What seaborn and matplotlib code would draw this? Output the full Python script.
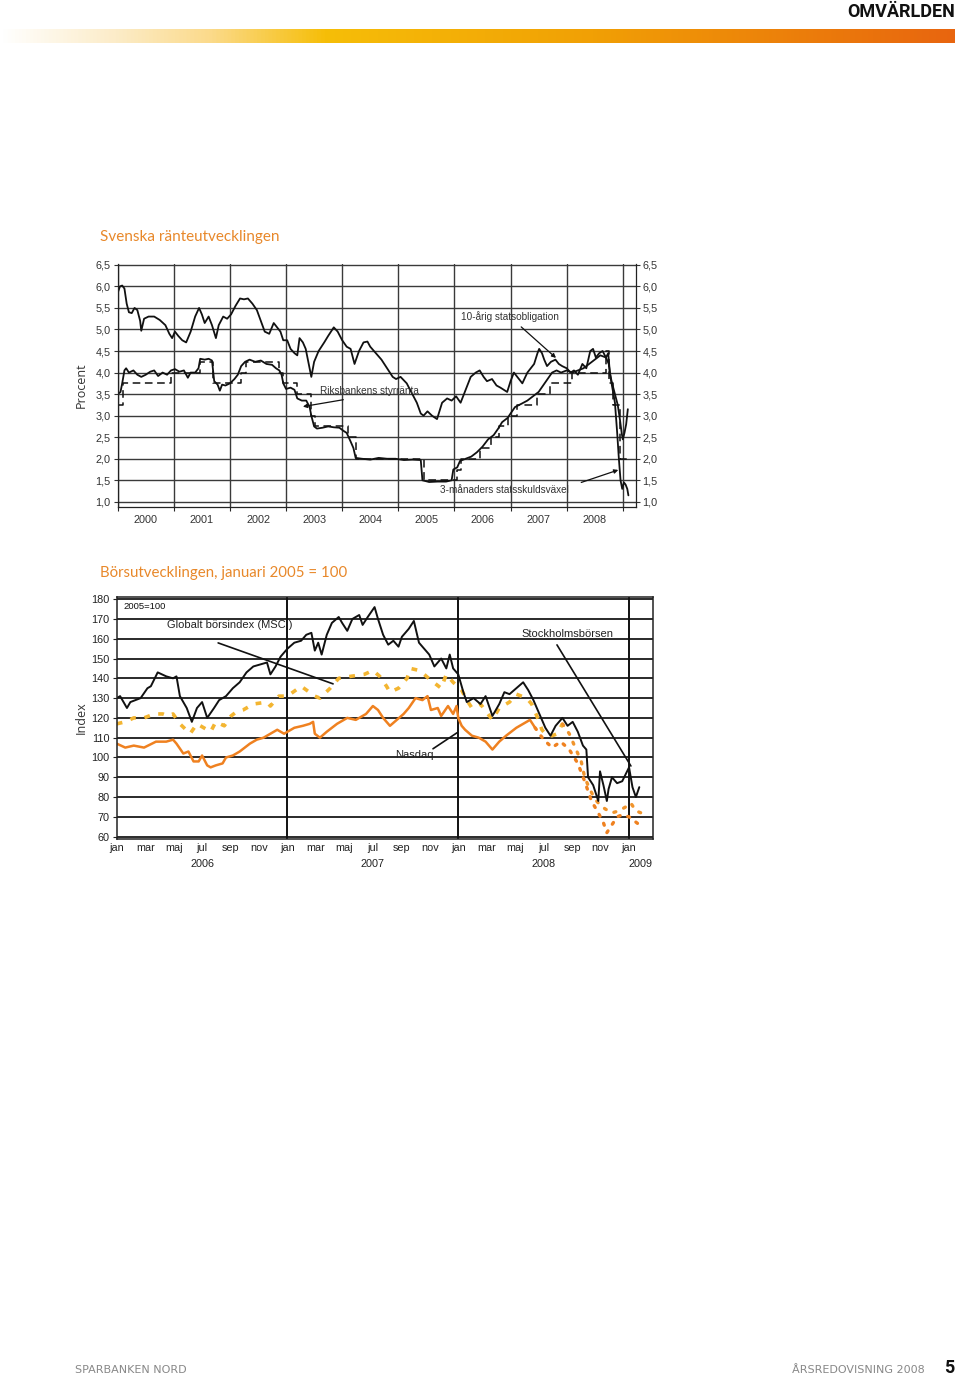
import numpy as np
import matplotlib
matplotlib.use("Agg")
import matplotlib.pyplot as plt
import matplotlib.transforms as mtransforms
from matplotlib.colors import LinearSegmentedColormap
import seaborn as sns

# ---------------- Svenska ränteutvecklingen (procent) ----------------
bond_year = [2000.00, 2000.04, 2000.08, 2000.12, 2000.16, 2000.20, 2000.25, 2000.30, 2000.35, 2000.40,
             2000.42, 2000.47, 2000.55, 2000.65, 2000.75, 2000.85, 2000.92, 2000.97, 2001.02, 2001.08,
             2001.15, 2001.22, 2001.30, 2001.38, 2001.45, 2001.50, 2001.55, 2001.62, 2001.68, 2001.75,
             2001.80, 2001.88, 2001.95, 2002.02, 2002.10, 2002.18, 2002.25, 2002.32, 2002.40, 2002.48,
             2002.55, 2002.62, 2002.70, 2002.78, 2002.84, 2002.90, 2002.95, 2003.02, 2003.08, 2003.15,
             2003.20, 2003.24, 2003.30, 2003.35, 2003.42, 2003.45, 2003.50, 2003.58, 2003.68, 2003.75,
             2003.85, 2003.92, 2004.00, 2004.08, 2004.15, 2004.22, 2004.30, 2004.38, 2004.45, 2004.50,
             2004.60, 2004.70, 2004.80, 2004.90, 2004.96, 2005.04, 2005.15, 2005.25, 2005.33, 2005.40,
             2005.45, 2005.52, 2005.60, 2005.69, 2005.78, 2005.87, 2005.95, 2006.03, 2006.11, 2006.20,
             2006.29, 2006.38, 2006.45, 2006.52, 2006.58, 2006.67, 2006.75, 2006.82, 2006.94, 2007.00,
             2007.06, 2007.15, 2007.21, 2007.30, 2007.42, 2007.48, 2007.51, 2007.56, 2007.60, 2007.65,
             2007.72, 2007.80, 2007.86, 2007.92, 2008.00, 2008.07, 2008.13, 2008.20, 2008.28, 2008.35,
             2008.42, 2008.47, 2008.52, 2008.58, 2008.64, 2008.70, 2008.74, 2008.77, 2008.80, 2008.84,
             2008.88, 2008.91, 2008.95, 2008.98, 2009.00, 2009.03, 2009.06, 2009.09]
bond_rate = [5.85, 6.00, 6.02, 5.95, 5.60, 5.40, 5.38, 5.50, 5.45, 5.20,
             4.97, 5.25, 5.30, 5.30, 5.22, 5.10, 4.90, 4.80, 4.95, 4.85,
             4.75, 4.70, 4.95, 5.30, 5.50, 5.35, 5.15, 5.30, 5.10, 4.80,
             5.10, 5.30, 5.25, 5.35, 5.55, 5.72, 5.70, 5.72, 5.60, 5.45,
             5.20, 4.95, 4.90, 5.15, 5.05, 4.95, 4.75, 4.75, 4.55, 4.45,
             4.40, 4.80, 4.70, 4.55, 4.10, 3.90, 4.25, 4.50, 4.70, 4.85,
             5.05, 4.95, 4.75, 4.60, 4.55, 4.20, 4.50, 4.70, 4.72, 4.60,
             4.45, 4.30, 4.10, 3.90, 3.85, 3.90, 3.75, 3.50, 3.30, 3.05,
             3.00, 3.10, 3.00, 2.92, 3.30, 3.40, 3.35, 3.45, 3.30, 3.60,
             3.90, 4.00, 4.05, 3.90, 3.80, 3.85, 3.70, 3.65, 3.55, 3.80,
             4.00, 3.85, 3.75, 4.00, 4.20, 4.45, 4.55, 4.45, 4.30, 4.15,
             4.25, 4.30, 4.20, 4.15, 4.10, 4.00, 4.05, 3.95, 4.20, 4.10,
             4.50, 4.55, 4.35, 4.45, 4.50, 4.35, 4.45, 4.00, 3.80, 3.60,
             3.40, 3.25, 2.90, 2.60, 2.45, 2.60, 2.80, 3.15]

tbill_year = [2000.00, 2000.05, 2000.08, 2000.12, 2000.15, 2000.20, 2000.28, 2000.35, 2000.42, 2000.50,
              2000.58, 2000.65, 2000.72, 2000.80, 2000.88, 2000.95, 2001.02, 2001.10, 2001.18, 2001.25,
              2001.30, 2001.38, 2001.44, 2001.47, 2001.55, 2001.62, 2001.68, 2001.72, 2001.78, 2001.82,
              2001.86, 2001.92, 2002.00, 2002.08, 2002.14, 2002.20, 2002.27, 2002.35, 2002.45, 2002.55,
              2002.65, 2002.75, 2002.82, 2002.88, 2002.92, 2002.95, 2003.00, 2003.08, 2003.15, 2003.20,
              2003.28, 2003.36, 2003.42, 2003.45, 2003.50, 2003.55, 2003.65, 2003.75, 2003.85, 2003.95,
              2004.02, 2004.08, 2004.15, 2004.20, 2004.24, 2004.35, 2004.50, 2004.65, 2004.80, 2004.95,
              2005.10, 2005.25, 2005.40, 2005.43, 2005.55, 2005.70, 2005.85, 2005.95, 2005.98, 2006.05,
              2006.10, 2006.20, 2006.30, 2006.40, 2006.50, 2006.60, 2006.70, 2006.78, 2006.85, 2006.95,
              2007.00, 2007.08, 2007.20, 2007.30, 2007.40, 2007.50, 2007.58, 2007.66, 2007.74, 2007.82,
              2007.90, 2008.00, 2008.10, 2008.20, 2008.30, 2008.40, 2008.50, 2008.60, 2008.70, 2008.75,
              2008.78, 2008.82, 2008.86, 2008.90, 2008.93, 2008.96, 2008.99, 2009.02, 2009.05, 2009.08,
              2009.10]
tbill_rate = [3.50, 3.55, 3.75, 4.05, 4.10, 4.00, 4.05, 3.95, 3.90, 3.95,
              4.02, 4.05, 3.92, 4.00, 3.95, 4.05, 4.08, 4.02, 4.05, 3.88,
              4.00, 4.00, 4.10, 4.32, 4.30, 4.32, 4.28, 3.80, 3.72, 3.58,
              3.72, 3.70, 3.75, 3.85, 3.95, 4.15, 4.25, 4.30, 4.25, 4.28,
              4.20, 4.18, 4.10, 4.05, 3.95, 3.75, 3.62, 3.65, 3.60, 3.40,
              3.35, 3.35, 3.20, 3.00, 2.75, 2.70, 2.72, 2.75, 2.73, 2.72,
              2.65, 2.60, 2.40, 2.25, 2.02, 2.00, 1.98, 2.02, 2.00, 2.00,
              1.97, 1.98, 1.97, 1.50, 1.46, 1.47, 1.47, 1.50, 1.75, 1.80,
              1.95, 2.00, 2.05, 2.15, 2.28, 2.45, 2.55, 2.70, 2.85, 2.95,
              3.05, 3.20, 3.28, 3.35, 3.45, 3.55, 3.70, 3.85, 4.00, 4.05,
              4.00, 4.05, 4.00, 4.05, 4.10, 4.20, 4.30, 4.40, 4.35, 4.20,
              3.90, 3.60, 3.30, 2.60, 2.00, 1.50, 1.30, 1.45, 1.40, 1.30,
              1.15]

repo_year = [2000.00, 2000.10, 2000.95, 2001.47, 2001.69, 2002.20, 2002.28, 2002.88, 2002.95, 2003.20,
             2003.45, 2003.52, 2004.10, 2004.25, 2005.45, 2006.05, 2006.12, 2006.45, 2006.65, 2006.80,
             2006.95, 2007.12, 2007.48, 2007.70, 2008.10, 2008.70, 2008.76, 2008.82, 2008.95, 2009.10]
repo_rate = [3.25, 3.75, 4.00, 4.25, 3.75, 4.00, 4.25, 4.00, 3.75, 3.50,
             3.00, 2.75, 2.50, 2.00, 1.50, 1.75, 2.00, 2.25, 2.50, 2.75,
             3.00, 3.25, 3.50, 3.75, 4.00, 4.50, 3.75, 3.25, 2.00, 2.00]

year_labels = ["2000", "2001", "2002", "2003", "2004", "2005", "2006", "2007", "2008"]
pct_ticks = [1.0, 1.5, 2.0, 2.5, 3.0, 3.5, 4.0, 4.5, 5.0, 5.5, 6.0, 6.5]

# ---------------- Börsutvecklingen, januari 2005 = 100 ----------------
sthlm_t = [2006.00, 2006.02, 2006.06, 2006.08, 2006.14, 2006.18, 2006.20, 2006.24, 2006.29, 2006.33,
           2006.35, 2006.37, 2006.39, 2006.41, 2006.44, 2006.47, 2006.50, 2006.53, 2006.57, 2006.60,
           2006.64, 2006.68, 2006.72, 2006.76, 2006.80, 2006.84, 2006.88, 2006.90, 2006.93, 2006.96,
           2007.00, 2007.04, 2007.08, 2007.11, 2007.14, 2007.16, 2007.18, 2007.20, 2007.23, 2007.26,
           2007.30, 2007.32, 2007.35, 2007.38, 2007.42, 2007.44, 2007.47, 2007.51, 2007.53, 2007.56,
           2007.59, 2007.62, 2007.65, 2007.67, 2007.71, 2007.74, 2007.77, 2007.80, 2007.83, 2007.86,
           2007.90, 2007.93, 2007.95, 2007.97, 2008.00, 2008.03, 2008.05, 2008.09, 2008.13, 2008.16,
           2008.20, 2008.24, 2008.27, 2008.30, 2008.34, 2008.38, 2008.41, 2008.44, 2008.47, 2008.51,
           2008.54, 2008.57, 2008.61, 2008.64, 2008.67, 2008.70, 2008.73, 2008.75, 2008.76, 2008.79,
           2008.82, 2008.83, 2008.85, 2008.87, 2008.88, 2008.90, 2008.93, 2008.96, 2009.00, 2009.02,
           2009.04, 2009.06]
sthlm_v = [130, 131, 125, 128, 130, 135, 136, 143, 141, 140,
           141, 131, 128, 125, 118, 125, 128, 120, 125, 129,
           131, 135, 138, 143, 146, 147, 148, 142, 146, 151,
           155, 158, 159, 162, 163, 154, 158, 152, 162, 168,
           171, 168, 164, 170, 172, 167, 171, 176, 170, 162,
           157, 159, 156, 161, 165, 169, 158, 155, 152, 146,
           150, 145, 152, 145, 142, 133, 128, 130, 127, 131,
           121, 127, 133, 132, 135, 138, 134, 129, 123, 115,
           111, 116, 120, 116, 118, 113, 106, 104, 90, 86,
           78, 93, 86, 78, 84, 90, 87, 88, 95, 85,
           80, 85]

msci_t = [2006.00, 2006.05, 2006.10, 2006.16, 2006.22, 2006.27, 2006.30, 2006.33, 2006.37, 2006.43,
          2006.47, 2006.51, 2006.55, 2006.58, 2006.63, 2006.67, 2006.70, 2006.74, 2006.80, 2006.88,
          2006.90, 2006.95, 2007.00, 2007.08, 2007.16, 2007.19, 2007.25, 2007.30, 2007.37, 2007.45,
          2007.50, 2007.54, 2007.58, 2007.60, 2007.65, 2007.70, 2007.72, 2007.77, 2007.80, 2007.84,
          2007.87, 2007.90, 2007.93, 2007.97, 2008.02, 2008.05, 2008.08, 2008.13, 2008.20, 2008.24,
          2008.30, 2008.34, 2008.40, 2008.43, 2008.46, 2008.49, 2008.52, 2008.55, 2008.58, 2008.61]
msci_v = [117, 118, 120, 120, 122, 122, 121, 122, 117, 112,
          117, 115, 113, 118, 116, 121, 123, 124, 127, 128,
          126, 131, 131, 136, 131, 130, 135, 140, 141, 142,
          144, 141, 136, 133, 135, 140, 145, 144, 142, 139,
          137, 135, 142, 138, 134, 129, 125, 127, 119, 125,
          128, 132, 130, 127, 121, 114, 111, 111, 112, 117]
msci_late_t = [2008.61, 2008.65, 2008.69, 2008.72, 2008.74, 2008.77, 2008.80, 2008.83, 2008.86, 2008.90,
               2008.94, 2008.98, 2009.01, 2009.04, 2009.07]
msci_late_v = [117, 112, 104, 98, 90, 84, 79, 76, 74, 72,
               73, 75, 77, 73, 72]

nasdaq_t = [2006.00, 2006.05, 2006.10, 2006.16, 2006.23, 2006.29, 2006.33, 2006.35, 2006.39, 2006.42,
            2006.45, 2006.48, 2006.50, 2006.53, 2006.55, 2006.58, 2006.62, 2006.64, 2006.68, 2006.72,
            2006.78, 2006.82, 2006.86, 2006.90, 2006.94, 2006.98, 2007.00, 2007.04, 2007.09, 2007.13,
            2007.15, 2007.16, 2007.19, 2007.23, 2007.29, 2007.35, 2007.40, 2007.46, 2007.50, 2007.53,
            2007.56, 2007.60, 2007.64, 2007.68, 2007.71, 2007.75, 2007.79, 2007.82, 2007.84, 2007.88,
            2007.90, 2007.94, 2007.97, 2007.99, 2008.00, 2008.02, 2008.04, 2008.08, 2008.12, 2008.16,
            2008.20, 2008.24, 2008.28, 2008.34, 2008.40, 2008.42, 2008.45]
nasdaq_v = [107, 105, 106, 105, 108, 108, 109, 107, 102, 103,
            98, 98, 101, 96, 95, 96, 97, 100, 101, 103,
            107, 109, 110, 112, 114, 112, 113, 115, 116, 117,
            118, 112, 110, 113, 117, 120, 119, 122, 126, 124,
            120, 116, 119, 122, 125, 130, 129, 131, 124, 125,
            121, 126, 122, 126, 120, 116, 114, 111, 110, 108,
            104, 108, 111, 115, 118, 119, 115]
nasdaq_late_t = [2008.45, 2008.50, 2008.55, 2008.60, 2008.65, 2008.70, 2008.74, 2008.78, 2008.82, 2008.85,
                 2008.87, 2008.90, 2008.93, 2008.96, 2009.00, 2009.03, 2009.06]
nasdaq_late_v = [115, 109, 105, 108, 104, 97, 88, 78, 72, 67,
                 62, 66, 70, 71, 70, 68, 66]

month_labels = ["jan", "mar", "maj", "jul", "sep", "nov"]
stock_years = ["2006", "2007", "2008", "2009"]
index_ticks = [60, 70, 80, 90, 100, 110, 120, 130, 140, 150, 160, 170, 180]

sns.set_style("white")
plt.rcParams["font.family"] = ["Liberation Sans", "DejaVu Sans"]

W, H = 960, 1375
fig = plt.figure(figsize=(W / 100, H / 100), dpi=100)


def fx(px):
    return px / W


def fy(py):
    return 1 - py / H


# header band
band = fig.add_axes([0, fy(43), fx(955), 14 / H])
cmap = LinearSegmentedColormap.from_list(
    "band", [(0, "#ffffff"), (0.12, "#fcecc8"), (0.22, "#fbda8a"), (0.34, "#f6be08"),
             (0.62, "#f1a005"), (1, "#e8650f")])
band.imshow(np.linspace(0, 1, 512)[None, :], aspect="auto", cmap=cmap)
band.axis("off")
fig.text(fx(955), fy(12), "OMVÄRLDEN", ha="right", va="center", fontsize=13,
         fontweight="bold", family="Roboto", color="#111111")

orange_title = "#e8882a"
dark = "#333333"

# ---------------- chart 1 ----------------
fig.text(fx(100), fy(237), "Svenska ränteutvecklingen", ha="left", va="center",
         fontsize=11, family="Lato", color=orange_title)
fig.text(fx(81), fy(385), "Procent", rotation=90, ha="center", va="center",
         fontsize=9, family="Open Sans", color=dark)

ax1 = fig.add_axes([fx(117.7), fy(507), (635.7 - 117.7) / W, (507 - 264) / H])
sns.lineplot(x=bond_year, y=bond_rate, ax=ax1, color="#111111", lw=1.3,
             estimator=None, sort=False)
sns.lineplot(x=tbill_year, y=tbill_rate, ax=ax1, color="#111111", lw=1.3,
             estimator=None, sort=False)
sns.lineplot(x=repo_year, y=repo_rate, ax=ax1, color="#111111", lw=1.1,
             estimator=None, sort=False, drawstyle="steps-post", linestyle=(0, (5, 3)))

ax1.set_xlim(2000, 2009.23)
ax1.set_ylim(0.88, 6.52)
ax1.set_yticks(pct_ticks)
ax1.set_yticklabels([f"{v:.1f}".replace(".", ",") for v in pct_ticks])
ax1.set_xticks(list(range(2000, 2010)))
ax1.set_xticklabels([])
ax1.set_xticks([y + 0.5 for y in range(2000, 2009)], minor=True)
ax1.set_xticklabels(year_labels, minor=True)
ax1.set_axisbelow(True)
ax1.grid(True, which="major", color="#3a3a3a", lw=1.0)
ax1.tick_params(axis="y", left=True, right=True, labelleft=True, labelright=True,
                length=3, width=0.8, direction="out", labelsize=7.8, colors=dark, pad=2)
ax1.tick_params(axis="x", which="major", bottom=True, length=3, width=0.8, direction="out")
ax1.tick_params(axis="x", which="minor", length=0, labelsize=7.8, labelcolor=dark, pad=6)
ax1.spines["top"].set_visible(False)
for s in ["left", "right", "bottom"]:
    ax1.spines[s].set_color("#222222")
    ax1.spines[s].set_linewidth(0.9)
ax1.set_xlabel("")
ax1.set_ylabel("")

arrow1 = dict(arrowstyle="-|>", color="#111111", lw=0.9, mutation_scale=6, shrinkA=0, shrinkB=0)
ax1.text(2006.12, 5.29, "10-årig statsobligation", fontsize=7.2, color=dark,
         ha="left", va="center")
ax1.annotate("", xy=(2007.81, 4.34), xytext=(2007.19, 5.06), arrowprops=arrow1)
ax1.text(2003.6, 3.58, "Riksbankens styrränta", fontsize=7.2, color=dark,
         ha="left", va="center")
ax1.annotate("", xy=(2003.3, 3.21), xytext=(2004.02, 3.37), arrowprops=arrow1)
ax1.text(2005.75, 1.28, "3-månaders statsskuldsväxel", fontsize=7.2, color=dark,
         ha="left", va="center")
ax1.annotate("", xy=(2008.92, 1.74), xytext=(2008.26, 1.45), arrowprops=arrow1)

# ---------------- chart 2 ----------------
fig.text(fx(100), fy(573), "Börsutvecklingen, januari 2005 = 100", ha="left", va="center",
         fontsize=10.8, family="Lato", color=orange_title)
fig.text(fx(81), fy(718), "Index", rotation=90, ha="center", va="center",
         fontsize=9, family="Open Sans", color=dark)

ax2 = fig.add_axes([fx(116.7), fy(839), (653.3 - 116.7) / W, (839 - 597) / H])
sns.lineplot(x=msci_t, y=msci_v, ax=ax2, color="#f3b531", lw=2.6,
             estimator=None, sort=False, linestyle=(0, (1.6, 2.4)))
sns.lineplot(x=msci_late_t, y=msci_late_v, ax=ax2, color="#f0942c", lw=2.4,
             estimator=None, sort=False, linestyle=(0, (0.6, 2.6)), dash_capstyle="round")
sns.lineplot(x=nasdaq_t, y=nasdaq_v, ax=ax2, color="#ef8120", lw=1.8,
             estimator=None, sort=False)
sns.lineplot(x=nasdaq_late_t, y=nasdaq_late_v, ax=ax2, color="#ef8120", lw=2.4,
             estimator=None, sort=False, linestyle=(0, (0.6, 2.4)), dash_capstyle="round")
sns.lineplot(x=sthlm_t, y=sthlm_v, ax=ax2, color="#111111", lw=1.4,
             estimator=None, sort=False)

ax2.set_xlim(2006, 2009.142)
ax2.set_ylim(58.8, 181.1)
ax2.set_yticks(index_ticks)
ax2.set_axisbelow(True)
ax2.yaxis.grid(True, color="#2a2a2a", lw=1.4)
for yr in [2007, 2008, 2009]:
    ax2.axvline(yr, color="#111111", lw=1.4, zorder=1)

month_pos = [y + m / 12 for y in (2006, 2007, 2008) for m in range(0, 12, 2)] + [2009.0]
ax2.set_xticks(month_pos)
ax2.set_xticklabels(month_labels * 3 + ["jan"])
ax2.set_xticks([2006 + m / 12 for m in range(0, 38)], minor=True)
ax2.tick_params(axis="x", which="major", length=3, direction="in", labelsize=7.8,
                colors="#222222", pad=3)
ax2.tick_params(axis="x", which="minor", length=2.5, direction="in", color="#222222")
ax2.tick_params(axis="y", left=True, length=3, direction="out", labelsize=7.8,
                colors="#222222", pad=2)
for s in ax2.spines.values():
    s.set_color("#222222")
    s.set_linewidth(1.1)
ax2.set_xlabel("")
ax2.set_ylabel("")

trans = mtransforms.blended_transform_factory(ax2.transData, ax2.transAxes)
for lab, xpos in zip(stock_years, [2006.5, 2007.5, 2008.5, 2009.065]):
    ax2.text(xpos, -0.104, lab, transform=trans, ha="center", va="center",
             fontsize=7.8, color="#222222")

ax2.text(2006.037, 176.1, "2005=100", fontsize=6.8, color="#111111", ha="left", va="center")
line2 = dict(arrowstyle="-", color="#111111", lw=1.2, shrinkA=0, shrinkB=0)
ax2.text(2006.294, 167.0, "Globalt börsindex (MSCI)", fontsize=8, color="#222222",
         ha="left", va="center")
ax2.annotate("", xy=(2007.267, 137.2), xytext=(2006.594, 157.9), arrowprops=line2)
ax2.text(2008.373, 162.5, "Stockholmsbörsen", fontsize=8, color="#222222",
         ha="left", va="center")
ax2.annotate("", xy=(2009.011, 95.7), xytext=(2008.578, 156.9), arrowprops=line2)
ax2.text(2007.629, 101.3, "Nasdaq", fontsize=8, color="#222222", ha="left", va="center")
ax2.annotate("", xy=(2007.993, 112.5), xytext=(2007.852, 104.4), arrowprops=line2)

# footer
fig.text(fx(75), fy(1370), "SPARBANKEN NORD", ha="left", va="center", fontsize=8,
         family="DejaVu Sans", color="#888888")
fig.text(fx(925), fy(1370), "ÅRSREDOVISNING 2008", ha="right", va="center", fontsize=8,
         family="DejaVu Sans", color="#888888")
fig.text(fx(954), fy(1368), "5", ha="right", va="center", fontsize=13,
         fontweight="bold", family="Roboto", color="#111111")

fig.savefig("out.png", dpi=100, facecolor="white")
